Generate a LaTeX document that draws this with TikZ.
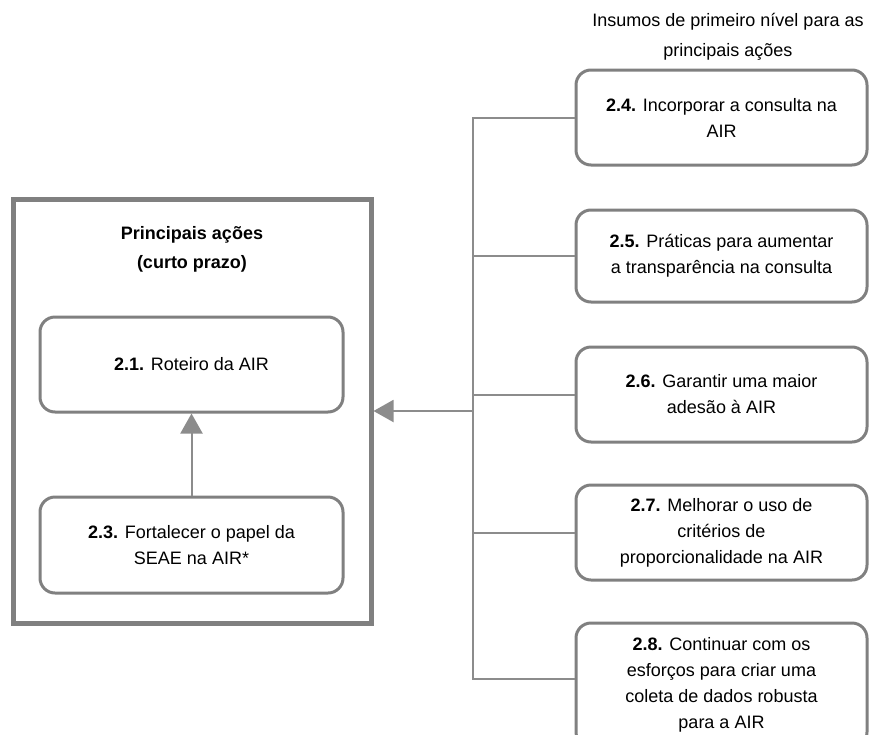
\documentclass[tikz,border=0pt]{standalone}
\usepackage{fontspec}
\setmainfont{Liberation Sans}
\usetikzlibrary{arrows.meta,positioning}
\definecolor{boxgray}{RGB}{128,128,128}
\definecolor{linegray}{RGB}{140,140,140}
\begin{document}
\begin{tikzpicture}[
  x=1pt, y=-1pt,
  font=\fontsize{18}{26}\selectfont,
  >={Triangle[length=20pt, width=22pt]},
  frame/.style={rectangle, draw=boxgray, line width=5pt, minimum width=358pt,
                minimum height=424pt},
  action/.style={rectangle, rounded corners=15pt, draw=boxgray, line width=3pt,
                 align=center, minimum width=303pt, minimum height=95pt},
  input/.style={rectangle, rounded corners=15pt, draw=boxgray, line width=3pt,
                align=center, minimum width=291pt, minimum height=95pt},
  heading/.style={align=center, font=\fontsize{18}{29}\selectfont\bfseries},
  link/.style={draw=linegray, line width=2pt},
  flow/.style={->, draw=linegray, line width=2pt},
]
\useasboundingbox (0,0) rectangle (870,734);

\node[frame] (main) at (192,411) {};
\node[heading] (head) at (192,249) {Principais ações\\(curto prazo)};
\node[action] (b21) at (191.5,364.5) {\textbf{2.1.} Roteiro da AIR};
\node[action, minimum height=96pt] (b23) at (191.5,545) {\textbf{2.3.} Fortalecer o papel da\\SEAE na AIR*};

\node[align=center, font=\fontsize{18}{30}\selectfont] (inputs) at (728,37) {Insumos de primeiro nível para as\\principais ações};
\node[input] (b24) at (721.5,117.5) {\textbf{2.4.} Incorporar a consulta na\\AIR};
\node[input, minimum height=92pt] (b25) at (721.5,256) {\textbf{2.5.} Práticas para aumentar\\a transparência na consulta};
\node[input] (b26) at (721.5,394.5) {\textbf{2.6.} Garantir uma maior\\adesão à AIR};
\node[input] (b27) at (721.5,532.5) {\textbf{2.7.} Melhorar o uso de\\critérios de\\proporcionalidade na AIR};
\node[input, minimum height=124pt] (b28) at (721.5,685) {\textbf{2.8.} Continuar com os\\esforços para criar uma\\coleta de dados robusta\\para a AIR};

\coordinate (bus) at (473,411);
\draw[link] (b24.west) -| (bus) |- ([yshift=6pt]b28.west);
\foreach \b in {b25,b26,b27}
  \draw[link] (\b.west) -- (\b.west -| bus);
\draw[flow] (bus) -- (main.east);
\draw[flow] (b23.north) -- (b21.south);

\end{tikzpicture}
\end{document}
